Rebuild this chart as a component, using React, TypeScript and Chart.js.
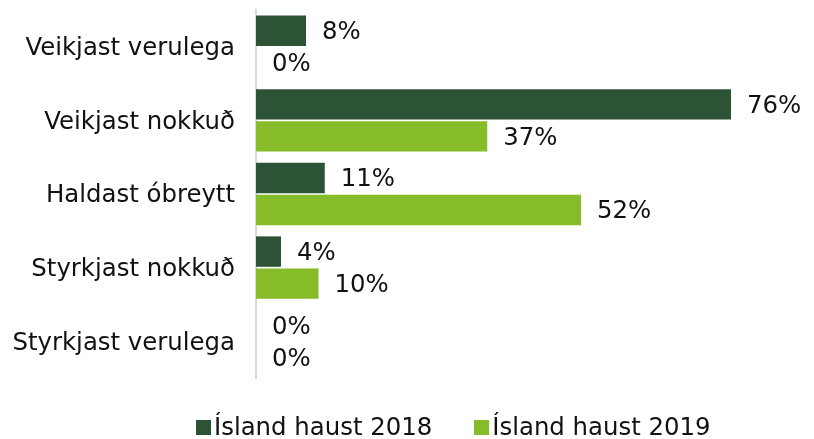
import React, { useEffect, useRef } from "react";
import { Chart, registerables } from "chart.js";

Chart.register(...registerables);

const categories = [
  "Veikjast verulega",
  "Veikjast nokkuð",
  "Haldast óbreytt",
  "Styrkjast nokkuð",
  "Styrkjast verulega",
];
const series2018 = [8, 76, 11, 4, 0];
const series2019 = [0, 37, 52, 10, 0];
const seriesNames = ["Ísland haust 2018", "Ísland haust 2019"];
const colors = ["#2C5335", "#86BC29"];

const FONT = "DejaVu Sans";
const FONT_SIZE = 24.4;

const labelPlugin = {
  id: "barValueLabels",
  afterDatasetsDraw(chart: any) {
    const ctx = chart.ctx;
    ctx.save();
    ctx.font = `${FONT_SIZE}px "${FONT}"`;
    ctx.fillStyle = "#111111";
    ctx.textAlign = "left";
    ctx.textBaseline = "middle";
    chart.data.datasets.forEach((ds: any, di: number) => {
      const meta = chart.getDatasetMeta(di);
      meta.data.forEach((bar: any, i: number) => {
        const v = ds.data[i];
        ctx.fillText(`${v}%`, bar.x + 16, bar.y + 2);
      });
    });
    ctx.restore();
  },
};

export default function App() {
  const ref = useRef<HTMLCanvasElement>(null);
  useEffect(() => {
    document.body.style.margin = "0";
    const chart = new Chart(ref.current!, {
      type: "bar",
      data: {
        labels: categories,
        datasets: [
          { label: seriesNames[0], data: series2018, backgroundColor: colors[0] },
          { label: seriesNames[1], data: series2019, backgroundColor: colors[1] },
        ],
      },
      options: {
        indexAxis: "y",
        animation: false,
        responsive: false,
        maintainAspectRatio: false,
        datasets: { bar: { categoryPercentage: 0.87, barPercentage: 0.95 } },
        layout: { padding: { top: 10, bottom: 61, right: 58, left: 0 } },
        plugins: { legend: { display: false }, tooltip: { enabled: false } },
        scales: {
          x: { display: false, min: 0, max: 80 },
          y: {
            grid: { display: false },
            border: { display: true, color: "#d9d9d9", width: 2 },
            ticks: {
              color: "#111111",
              font: { family: FONT, size: FONT_SIZE },
              padding: 13,
              labelOffset: 2,
            },
            afterFit: (scale: any) => {
              scale.width = 256;
              scale.paddingTop = 0;
              scale.paddingBottom = 0;
            },
          },
        },
      },
      plugins: [labelPlugin],
    });
    return () => chart.destroy();
  }, []);

  const legendItem = (i: number, extra: React.CSSProperties) => (
    <div style={{ display: "flex", alignItems: "center", ...extra }}>
      <span style={{ width: 15, height: 15, background: colors[i], marginRight: 3, display: "inline-block" }} />
      <span>{seriesNames[i]}</span>
    </div>
  );

  return (
    <div style={{ position: "relative", width: 814, height: 439 }}>
      <canvas ref={ref} width={814} height={439} style={{ display: "block" }} />
      <div
        style={{
          position: "absolute",
          left: 196,
          top: 413,
          display: "flex",
          fontFamily: FONT,
          fontSize: FONT_SIZE,
          lineHeight: "28px",
          color: "#111111",
          whiteSpace: "nowrap",
        }}
      >
        {legendItem(0, {})}
        {legendItem(1, { marginLeft: 42 })}
      </div>
    </div>
  );
}
